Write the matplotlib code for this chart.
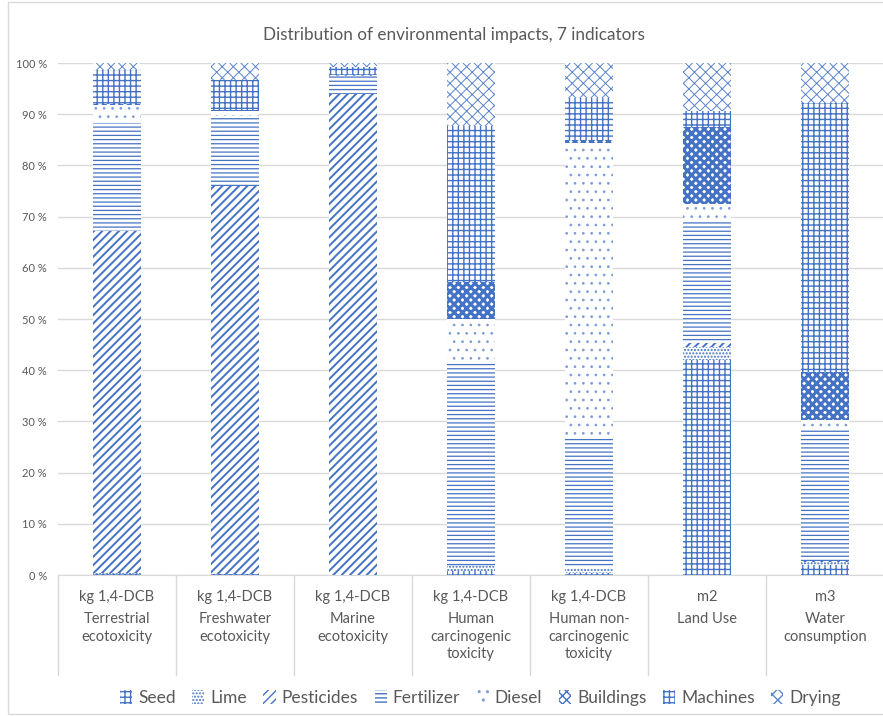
import numpy as np
import matplotlib
matplotlib.use('Agg')
import matplotlib.pyplot as plt
from matplotlib.patches import Rectangle

plt.rcParams['font.family'] = ['Lato', 'DejaVu Sans']

# Data (shares, % of each indicator)
units = ['kg 1,4-DCB', 'kg 1,4-DCB', 'kg 1,4-DCB', 'kg 1,4-DCB', 'kg 1,4-DCB', 'm2', 'm3']
indicators = ['Terrestrial\necotoxicity', 'Freshwater\necotoxicity', 'Marine\necotoxicity',
              'Human\ncarcinogenic\ntoxicity', 'Human non-\ncarcinogenic\ntoxicity',
              'Land Use', 'Water\nconsumption']
sources = ['Seed', 'Lime', 'Pesticides', 'Fertilizer', 'Diesel', 'Buildings', 'Machines', 'Drying']

seed = [0.2, 0.1, 0.0, 0.8, 0.4, 42.0, 2.0]
lime = [0.1, 0.1, 0.0, 1.0, 0.9, 2.5, 0.6]
pesticides = [66.8, 75.8, 93.9, 0.0, 0.0, 0.8, 0.1]
fertilizer = [21.2, 13.6, 3.6, 39.9, 25.7, 24.0, 25.8]
diesel = [3.4, 1.0, 0.2, 8.3, 57.4, 3.2, 1.8]
buildings = [0.3, 0.3, 0.0, 7.2, 0.6, 15.0, 9.4]
machines = [6.6, 5.7, 1.6, 30.5, 8.2, 3.2, 52.5]
drying = [1.4, 3.5, 0.7, 12.3, 6.8, 9.3, 7.8]

series = [seed, lime, pesticides, fertilizer, diesel, buildings, machines, drying]
hatches = ['+++', '.....', '////', '----', '..', 'xxxx', '+++', 'xxx']
hatch_lw = [1.0, 1.0, 1.4, 0.9, 0.7, 2.2, 1.0, 0.7]

blue = '#4472c4'
hatch_colors = [blue, blue, blue, blue, '#7b9bd8', blue, blue, '#5a84cc']
grey = '#595959'
light = '#d9d9d9'

fig = plt.figure(figsize=(8.83, 7.16), dpi=100)
ax = fig.add_axes([58 / 883, 141 / 716, 826 / 883, 512 / 716])

x = np.arange(len(indicators))
bottom = np.zeros(len(indicators))
for name, vals, h, lw, c in zip(sources, series, hatches, hatch_lw, hatch_colors):
    share = np.array(vals) / 100.0
    with plt.rc_context({'hatch.linewidth': lw}):
        ax.bar(x, share, width=0.4, bottom=bottom, facecolor='white', edgecolor=c,
               linewidth=0, hatch=h, label=name, zorder=3)
    bottom += share

ax.set_xlim(-0.5, len(indicators) - 0.5)
ax.set_ylim(0, 1)
ax.set_yticks(np.arange(0, 1.01, 0.1))
ax.set_yticklabels(['{} %'.format(int(round(v * 100))) for v in np.arange(0, 1.01, 0.1)])
ax.tick_params(axis='y', length=0, pad=8, labelsize=8, labelcolor=grey)
ax.set_xticks([])
ax.grid(axis='y', color=light, linewidth=1, zorder=0)
for s in ['top', 'right', 'left']:
    ax.spines[s].set_visible(False)
ax.spines['bottom'].set_color(light)

# two-level category axis
trans = ax.get_xaxis_transform()
for i in range(len(indicators)):
    ax.text(i, -0.043, units[i], transform=trans, ha='center', va='center',
            fontsize=10.5, color=grey)
    ax.text(i, -0.073, indicators[i], transform=trans, ha='center', va='top',
            fontsize=10.5, color=grey, linespacing=1.3)
for b in np.arange(-0.5, len(indicators), 1.0):
    ax.plot([b, b], [0, -0.195], transform=trans, color=light, lw=1, clip_on=False)

fig.text(0.514, 1 - 35 / 716, 'Distribution of environmental impacts, 7 indicators',
         ha='center', va='center', fontsize=12.3, color=grey)

fig.legend(loc='center', bbox_to_anchor=(0.544, 1 - 698 / 716), ncol=8, frameon=False,
           fontsize=12.5, labelcolor=grey, handlelength=0.7, handleheight=0.8,
           handletextpad=0.35, columnspacing=0.95)

fig.patches.append(Rectangle((8 / 883, 0.003), 1.0, 0.994, transform=fig.transFigure,
                             fill=False, edgecolor=light, lw=1))

fig.savefig('out.png', dpi=100, facecolor='white')
